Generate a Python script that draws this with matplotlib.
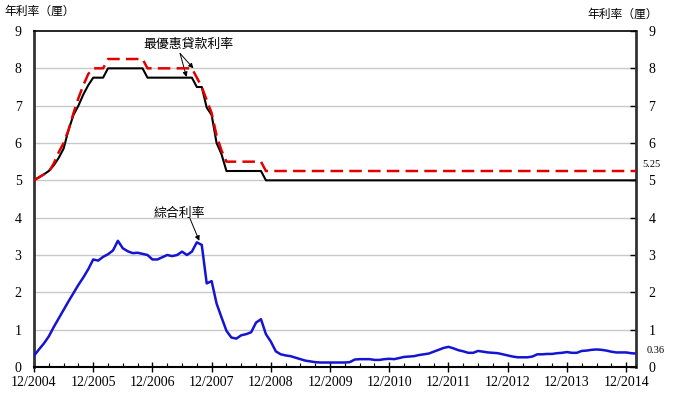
import matplotlib
matplotlib.use("Agg")
import matplotlib.pyplot as plt
from matplotlib.ticker import MultipleLocator, FixedLocator
import numpy as np

# months since 12/2004
x_tick_labels = ["12/2004", "12/2005", "12/2006", "12/2007", "12/2008", "12/2009",
                 "12/2010", "12/2011", "12/2012", "12/2013", "12/2014"]

prime_high = ([5.0, 5.08, 5.16, 5.23, 5.45, 5.75, 6.0, 6.35, 6.8, 7.2, 7.55, 7.85,
               8.0, 8.0, 8.0] + [8.25] * 8 + [8.0] * 10 +
              [7.75, 7.5, 7.15, 6.8, 6.2, 5.8, 5.5] + [5.5] * 7 + [5.25] * 76)
prime_low = ([5.0, 5.08, 5.16, 5.25, 5.4, 5.6, 5.85, 6.35, 6.75, 7.0, 7.3, 7.55,
              7.75, 7.75, 7.75] + [8.0] * 8 + [7.75] * 10 +
             [7.5, 7.5, 6.95, 6.75, 6.0, 5.7, 5.25] + [5.25] * 7 + [5.0] * 76)
composite = [0.30, 0.47, 0.63, 0.82, 1.07, 1.30, 1.53, 1.76, 1.98, 2.20, 2.40, 2.62,
             2.88, 2.85, 2.95, 3.02, 3.12, 3.38, 3.18, 3.10, 3.05, 3.06, 3.03, 3.00,
             2.88, 2.88, 2.94, 3.00, 2.97, 3.00, 3.09, 3.00, 3.09, 3.34, 3.27, 2.24,
             2.30, 1.70, 1.33, 0.97, 0.79, 0.76, 0.85, 0.88, 0.93, 1.19, 1.28, 0.88,
             0.68, 0.42, 0.34, 0.31, 0.29, 0.25, 0.21, 0.17, 0.15, 0.13, 0.12, 0.12,
             0.12, 0.12, 0.12, 0.12, 0.13, 0.20, 0.21, 0.21, 0.21, 0.19, 0.19, 0.21,
             0.22, 0.21, 0.24, 0.27, 0.28, 0.29, 0.32, 0.34, 0.36, 0.41, 0.46, 0.51,
             0.54, 0.50, 0.45, 0.42, 0.38, 0.38, 0.43, 0.41, 0.39, 0.38, 0.37, 0.34,
             0.31, 0.28, 0.26, 0.26, 0.26, 0.28, 0.34, 0.34, 0.35, 0.35, 0.37, 0.38,
             0.40, 0.38, 0.38, 0.43, 0.44, 0.46, 0.47, 0.46, 0.44, 0.41, 0.39, 0.39,
             0.39, 0.37, 0.36]

months = np.arange(len(composite))

cjk = ["Noto Sans CJK TC", "DejaVu Sans"]
serif = "Liberation Serif"

fig = plt.figure(figsize=(6.74, 4.04), dpi=100)
ax = fig.add_axes([34 / 674, 1 - 367 / 404, 602 / 674, 336 / 404])

ax.set_xlim(0, 122)
ax.set_ylim(0, 9)

for v in range(1, 9):
    ax.axhline(v, color="#c8c8c8", lw=1.0, zorder=0)

ax.plot(months, prime_low, color="black", lw=1.5, zorder=3)
ax.plot(months, prime_high, color="#e00000", lw=1.8, dashes=(5, 2.5), zorder=4)
ax.plot(months, composite, color="#1414d2", lw=1.8, zorder=3)

# ticks
ax.xaxis.set_major_locator(FixedLocator(np.arange(0, 121, 12)))
ax.set_xticklabels(x_tick_labels, fontfamily=serif, fontsize=10)
ax.xaxis.set_minor_locator(MultipleLocator(3))
ax.tick_params(axis="x", which="major", direction="inout", length=7, width=1, pad=3)
ax.tick_params(axis="x", which="minor", direction="in", length=3, width=0.8)

ax.yaxis.set_major_locator(MultipleLocator(1))
ax.tick_params(axis="y", which="major", left=False, right=True, labelleft=True,
               labelright=True, direction="in", length=4, width=1, pad=9,
               labelsize=10)
for lab in ax.get_yticklabels():
    lab.set_fontfamily(serif)

for side in ["left", "right"]:
    ax.spines[side].set_linewidth(2)
    ax.spines[side].set_color("#333333")
ax.spines["bottom"].set_linewidth(1.5)
ax.spines["top"].set_linewidth(1.2)

# axis titles
fig.text(40 / 674, 1 - 11 / 404, "年利率（厘）", family=cjk, fontsize=8.5,
         ha="center", va="center")
fig.text(623 / 674, 1 - 14 / 404, "年利率（厘）", family=cjk, fontsize=8.5,
         ha="center", va="center")

# end labels
ax.annotate("5.25", xy=(1.01, 5.42), xycoords=("axes fraction", "data"),
            fontsize=7.5, fontfamily=serif, ha="left", va="center")
ax.annotate("0.36", xy=(1.018, 0.43), xycoords=("axes fraction", "data"),
            fontsize=7.5, fontfamily=serif, ha="left", va="center")

# annotations
ax.text(31.4, 8.65, "最優惠貸款利率", family=cjk, fontsize=9.3, ha="center", va="center")
arrow = dict(arrowstyle="-|>", color="black", lw=0.7, mutation_scale=7,
             shrinkA=0, shrinkB=0)
ax.annotate("", xy=(30.9, 7.77), xytext=(29.6, 8.4), arrowprops=arrow)
ax.annotate("", xy=(32.3, 8.0), xytext=(29.6, 8.4), arrowprops=arrow)

ax.text(29.4, 4.12, "綜合利率", family=cjk, fontsize=9.3, ha="center", va="center")
ax.annotate("", xy=(33.5, 3.38), xytext=(31.6, 3.98), arrowprops=arrow)

fig.savefig("out.png", dpi=100)
